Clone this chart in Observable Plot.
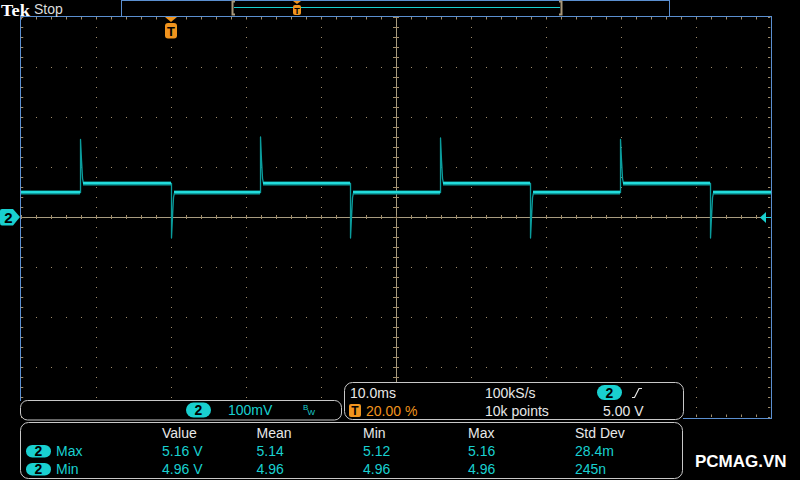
<!DOCTYPE html>
<html><head><meta charset="utf-8">
<script src="https://cdn.jsdelivr.net/npm/d3@7"></script>
<script src="https://cdn.jsdelivr.net/npm/@observablehq/plot@0.6"></script>
<style>
html,body{margin:0;padding:0;background:#000;}
#wrap{position:relative;width:800px;height:480px;background:#000;overflow:hidden;}
#wrap > svg{position:absolute;left:0;top:0;}
</style>
</head><body>
<div id="wrap"></div>
<script>
// ---- data (time in ms, trigger at t = 0; volts) ----
const riseTimes = [-12.13, 11.87, 35.87, 59.87];
const fallTimes = [0.0, 23.87, 47.87, 71.87];
const spikePeaks = [5.156, 5.161, 5.159, 5.156];
const spikeDips = [4.959, 4.959, 4.959, 4.959];
const highLevel = 5.068;
const lowLevel = 5.050;
const riseSettle = [[0.13, 5.115], [0.27, 5.078], [0.4, 5.068]];
const fallSettle = [[0.13, 5.000], [0.27, 5.040], [0.4, 5.050]];
const timeDomain = [-20, 80];     // 10 ms/div, trigger at 20 %
const voltDomain = [4.6, 5.4];    // 100 mV/div, offset 5.00 V

const headers = ["Value", "Mean", "Min", "Max", "Std Dev"];
const rowLabels = ["Max", "Min"];
const rowMax = ["5.16 V", "5.14", "5.12", "5.16", "28.4m"];
const rowMin = ["4.96 V", "4.96", "4.96", "4.96", "245n"];

// ---- build trace ----
const trace = [{t: timeDomain[0], v: lowLevel}];
const highSegs = [], lowSegs = [];
riseTimes.forEach((r, i) => {
  trace.push({t: r, v: lowLevel}, {t: r, v: spikePeaks[i]});
  riseSettle.forEach(([dt, v]) => trace.push({t: r + dt, v}));
  const f = fallTimes[i];
  trace.push({t: f, v: highLevel}, {t: f, v: spikeDips[i]});
  fallSettle.forEach(([dt, v]) => trace.push({t: f + dt, v}));
  highSegs.push({x1: r + 0.4, x2: f, v: highLevel});
  const next = i + 1 < riseTimes.length ? riseTimes[i + 1] : timeDomain[1];
  lowSegs.push({x1: f + 0.4, x2: next, v: lowLevel});
});
trace.push({t: timeDomain[1], v: lowLevel});
lowSegs.unshift({x1: timeDomain[0], x2: riseTimes[0], v: lowLevel});

const grid = "#a08c6a", cross = "#a89c80";
const majorT = d3.range(-10, 80, 10).filter(d => d !== 30);
const majorV = [4.7, 4.8, 4.9, 5.1, 5.2, 5.3];
const minorT = d3.range(0, 51).map(i => -20 + i * 2);
const minorV = d3.range(0, 41).map(i => 4.6 + i * 0.02);

const chart = Plot.plot({
  width: 800, height: 480,
  marginLeft: 21, marginRight: 29, marginTop: 17, marginBottom: 63,
  x: {domain: timeDomain, axis: null},
  y: {domain: voltDomain, axis: null},
  style: {background: "#000"},
  marks: [
    Plot.ruleX(majorT, {y1: 5.4, y2: 4.6, stroke: grid, strokeDasharray: "1,9"}),
    Plot.ruleY(majorV, {x1: -20, x2: 80, stroke: grid, strokeDasharray: "1,14"}),
    Plot.ruleX([30], {stroke: cross}),
    Plot.ruleY([5.0], {stroke: cross}),
    Plot.ruleX(minorT, {y1: 4.996, y2: 5.004, stroke: grid}),
    Plot.ruleY(minorV, {x1: 29.6, x2: 30.4, stroke: grid}),
    Plot.ruleX(minorT, {y1: 5.4, y2: 5.395, stroke: grid}),
    Plot.ruleX(minorT, {y1: 4.6, y2: 4.605, stroke: grid}),
    Plot.ruleY(minorV, {x1: -20, x2: -19.7, stroke: grid}),
    Plot.ruleY(minorV, {x1: 79.6, x2: 79.9, stroke: grid}),
    Plot.line(trace, {x: "t", y: "v", stroke: "#0a9c9c", strokeWidth: 1.3, curve: "linear"}),
    Plot.ruleY(highSegs.concat(lowSegs), {x1: "x1", x2: "x2", y: "v", stroke: "#0d9e9e", strokeWidth: 4}),
    Plot.ruleY(highSegs.concat(lowSegs), {x1: "x1", x2: "x2", y: "v", stroke: "#22dcdc", strokeWidth: 2, dy: -0.5})
  ]
});
const wrap = document.getElementById("wrap");
wrap.appendChild(chart);

// ---- instrument chrome overlay ----
const cyan = "#19d0d0", orange = "#f0941e", blue = "#5b8fd0", boxc = "#c8c8c8";
const F = "'Liberation Sans', Arial, sans-serif";
const colX = [162, 256.5, 363, 468, 575];
let s = `<svg xmlns="http://www.w3.org/2000/svg" width="800" height="480" font-family="${F}" font-size="14">`;
// top bar
s += `<rect x="121.5" y="0.5" width="548" height="16" fill="none" stroke="${blue}"/>`;
s += `<line x1="20" y1="16.5" x2="772" y2="16.5" stroke="${blue}"/>`;
s += `<line x1="20.5" y1="16" x2="20.5" y2="401" stroke="${blue}"/>`;
s += `<line x1="771.5" y1="16" x2="771.5" y2="418" stroke="${blue}"/>`;
s += `<line x1="683" y1="418.5" x2="772" y2="418.5" stroke="${blue}"/>`;
s += `<line x1="234" y1="7.5" x2="560" y2="7.5" stroke="${cyan}"/>`;
s += `<path d="M235,1.5 H232.5 V14.5 H235" fill="none" stroke="#a8987a" stroke-width="2"/>`;
s += `<path d="M559,1.5 H561.5 V14.5 H559" fill="none" stroke="#a8987a" stroke-width="2"/>`;
s += `<polygon points="293,1 301,1 297,4" fill="${orange}"/>`;
s += `<rect x="293" y="5" width="8" height="10" rx="2" fill="${orange}"/>`;
s += `<text x="297" y="13.5" font-size="9" font-weight="bold" text-anchor="middle" fill="#000">T</text>`;
s += `<text x="1" y="15.5" font-family="'Liberation Serif', serif" font-weight="bold" font-size="17" textLength="29" lengthAdjust="spacingAndGlyphs" fill="#fff">Tek</text>`;
s += `<text x="34" y="14" fill="#dcdcdc">Stop</text>`;
// trigger marker
s += `<polygon points="165,17 177,17 171,22" fill="${orange}"/>`;
s += `<rect x="165" y="23" width="12" height="15.5" rx="3" fill="${orange}"/>`;
s += `<text x="171" y="35.5" font-size="13" font-weight="bold" text-anchor="middle" fill="#000">T</text>`;
// channel markers
s += `<path d="M2,209 H13 L20,217 L13,225.5 H2 Q0,225.5 0,223 V211 Q0,209 2,209 Z" fill="${cyan}"/>`;
s += `<text x="8.5" y="223" font-size="15" font-weight="bold" text-anchor="middle" fill="#000">2</text>`;
s += `<polygon points="760,217.5 766,212 766,223" fill="${cyan}"/>`;
s += `<line x1="766" y1="217.5" x2="771" y2="217.5" stroke="${cyan}"/>`;
// channel box
s += `<rect x="20.5" y="400.5" width="321" height="19.5" rx="7" fill="#000" stroke="${boxc}"/>`;
s += `<rect x="186" y="402.5" width="25" height="15" rx="7.5" fill="${cyan}"/>`;
s += `<text x="198.5" y="415" font-weight="bold" text-anchor="middle" fill="#000">2</text>`;
s += `<text x="228" y="415" fill="${cyan}">100mV</text>`;
s += `<text x="303" y="410" font-size="8" fill="${cyan}">B</text><text x="307.5" y="414.5" font-size="8" fill="${cyan}">W</text>`;
// horizontal box
s += `<rect x="344.5" y="382.5" width="339" height="37" rx="8" fill="#000" stroke="${boxc}"/>`;
s += `<text x="350" y="398" fill="#e8e8e8">10.0ms</text>`;
s += `<text x="485" y="398" fill="#e8e8e8">100kS/s</text>`;
s += `<rect x="597" y="385" width="25" height="15" rx="7.5" fill="${cyan}"/>`;
s += `<text x="609.5" y="397.5" font-weight="bold" text-anchor="middle" fill="#000">2</text>`;
s += `<path d="M632,397.5 H634.5 L639,388.5 H642" fill="none" stroke="#e8e8e8" stroke-width="1.2"/>`;
s += `<rect x="349" y="404" width="12" height="13" rx="2" fill="${orange}"/>`;
s += `<text x="355" y="415" font-size="12" font-weight="bold" text-anchor="middle" fill="#000">T</text>`;
s += `<text x="366" y="416" fill="${orange}">20.00 %</text>`;
s += `<text x="485" y="416" fill="#e8e8e8">10k points</text>`;
s += `<text x="603" y="416" fill="#e8e8e8">5.00 V</text>`;
// measurement box
s += `<rect x="20.5" y="422.5" width="662" height="56" rx="8" fill="#000" stroke="${boxc}"/>`;
headers.forEach((h, i) => { s += `<text x="${colX[i]}" y="438" fill="#e8e8e8">${h}</text>`; });
[rowMax, rowMin].forEach((row, r) => {
  const by = r === 0 ? 456 : 474;
  s += `<rect x="26" y="${by - 11}" width="25" height="12.5" rx="6.25" fill="${cyan}"/>`;
  s += `<text x="38.5" y="${by}" font-weight="bold" text-anchor="middle" fill="#000">2</text>`;
  s += `<text x="56" y="${by}" fill="${cyan}">${rowLabels[r]}</text>`;
  row.forEach((v, i) => { s += `<text x="${colX[i]}" y="${by}" fill="${cyan}">${v}</text>`; });
});
s += `<text x="695" y="467" font-size="17" font-weight="bold" fill="#fff">PCMAG.VN</text>`;
s += `</svg>`;
wrap.insertAdjacentHTML("beforeend", s);
</script>
</body></html>
